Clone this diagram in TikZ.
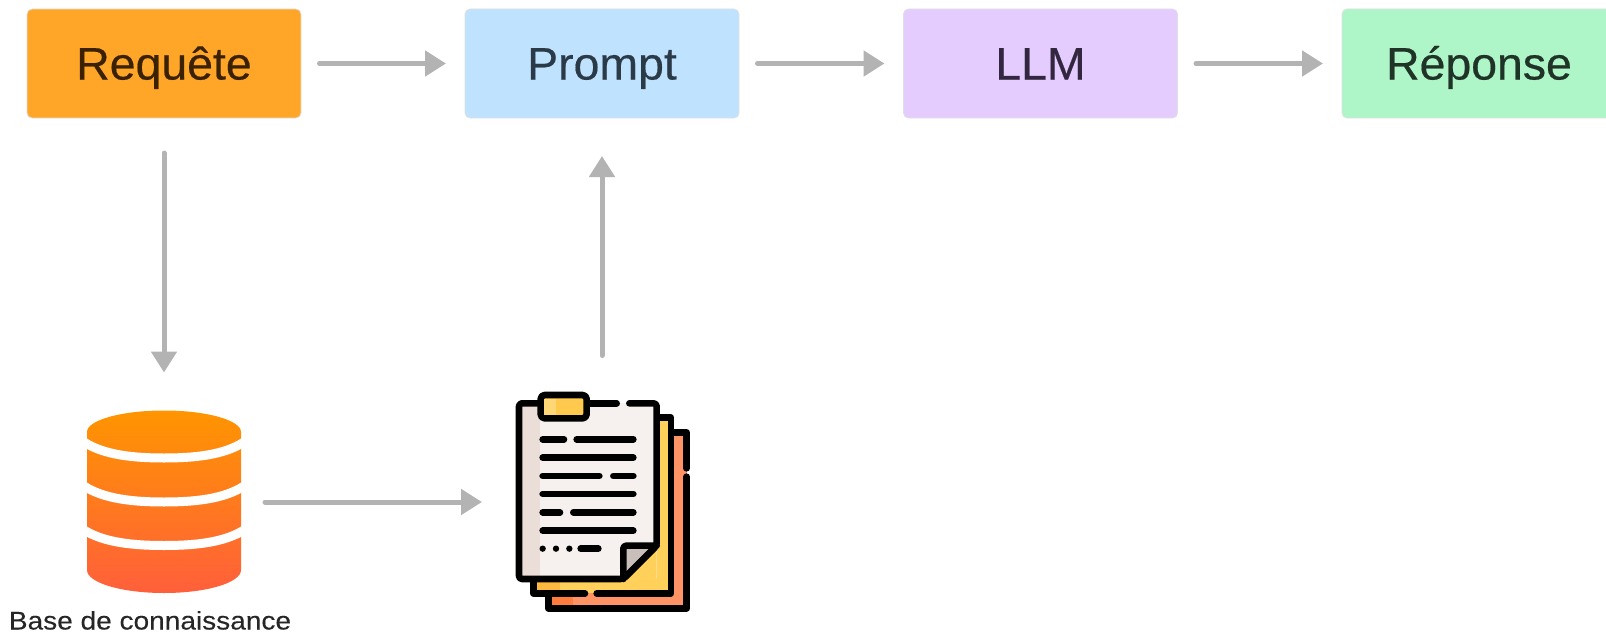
\documentclass[tikz,border=0pt]{standalone}
\usepackage{fontspec}
\setmainfont{Liberation Sans}
\newfontfamily\boxfont[FakeBold=0.4,FakeStretch=1.02]{Liberation Sans}
\newfontfamily\labfont[FakeBold=0.15,FakeStretch=1.1]{Liberation Sans}
\usetikzlibrary{arrows.meta}
\definecolor{arrowgray}{HTML}{B3B3B3}
\definecolor{cReq}{HTML}{FFA629}
\definecolor{cPro}{HTML}{BFE2FF}
\definecolor{cLlm}{HTML}{E5CCFF}
\definecolor{cRep}{HTML}{AEF5C8}
\definecolor{tReq}{HTML}{3A2200}
\definecolor{tPro}{HTML}{2B3A47}
\definecolor{tLlm}{HTML}{33263F}
\definecolor{tRep}{HTML}{1F3326}
\definecolor{dbTop}{HTML}{FF9500}
\definecolor{dbBot}{HTML}{FF5F3B}
\definecolor{pageA}{HTML}{F6F1EE}
\definecolor{pageAs}{HTML}{EBDDD8}
\definecolor{pageB}{HTML}{FFD15B}
\definecolor{pageBs}{HTML}{FFB93E}
\definecolor{pageC}{HTML}{FF9365}
\definecolor{pageCs}{HTML}{FF7B3E}
\definecolor{foldc}{HTML}{C9BFBA}
\definecolor{tabc}{HTML}{FFC94D}
\definecolor{tabl}{HTML}{FFD875}
\tikzset{
  x=1pt,y=-1pt,
  stagebox/.style={rectangle,rounded corners=5pt,minimum width=274pt,minimum height=109pt,
    inner sep=0pt,outer sep=0pt,draw=black!12,line width=0.8pt,text height=32pt,text depth=0pt,
    font=\boxfont\fontsize{45.5}{50}\selectfont},
  flow/.style={draw=arrowgray,line width=5pt,line cap=round,
    -{Triangle[length=21pt,width=25pt]}},
  ink/.style={line width=6.6pt,line cap=round,line join=round,draw=black},
  iconbox/.style={inner sep=0pt,outer sep=0pt,minimum width=#1},
}
\begin{document}
\begin{tikzpicture}
\useasboundingbox (0,0) rectangle (1606,634);
\clip (0,0) rectangle (1606,634);
\node[stagebox,fill=cReq,text=tReq] (req) at (164,63.5) {Requête};
\node[stagebox,fill=cPro,text=tPro] (pro) at (602,63.5) {Prompt};
\node[stagebox,fill=cLlm,text=tLlm] (llm) at (1040.5,63.5) {LLM};
\node[stagebox,fill=cRep,text=tRep] (rep) at (1479,63.5) {Réponse};
\node[iconbox=154pt,minimum height=183pt] (db) at (164,502) {};
\node[iconbox=172pt,minimum height=219pt] (doc) at (602,502) {};
\node[inner sep=0pt,font=\labfont\fontsize{25.5}{28}\selectfont,text=black!85,anchor=base] (lab) at (150,629.5) {Base de connaissance};
% database
\shade[top color=dbTop,bottom color=dbBot]
  (87,432) arc[start angle=180,end angle=360,x radius=77,y radius=21.5]
  -- (241,570) arc[start angle=0,end angle=180,x radius=77,y radius=23] -- cycle;
\foreach \yy/\sg in {442/16,486/16,530/15.5}
  \draw[white,line width=9pt]
    (84,\yy) .. controls (104,\yy+\sg*0.82) and (134,\yy+\sg) .. (164,\yy+\sg)
    .. controls (194,\yy+\sg) and (224,\yy+\sg*0.82) .. (244,\yy);
% document icon (zoom-crop coordinates)
\begin{scope}[shift={(490,380)},scale=0.33333]
  \fill[pageC] (175,157) rectangle (590,685);
  \fill[pageCs] (175,500) rectangle (250,685);
  \draw[ink] (590,265) -- (590,157) -- (505,157);
  \draw[ink] (590,290) -- (590,685) -- (175,685) -- (175,640);
  \fill[pageB] (130,113) rectangle (543,640);
  \fill[pageBs] (130,500) rectangle (210,640);
  \draw[ink] (505,113) -- (543,113) -- (543,640) -- (320,640);
  \draw[ink] (285,640) -- (130,640) -- (130,597);
  \fill[pageA] (87,70) rectangle (500,597);
  \fill[pageAs] (87,70) rectangle (150,597);
  \fill[pageB] (400,597) -- (500,497) -- (500,597) -- cycle;
  \fill[foldc] (400,597) -- (400,497) -- (500,497) -- cycle;
  \draw[ink,rounded corners=3pt] (150,70) -- (87,70) -- (87,597) -- (400,597) -- (500,497) -- (500,70) -- (418,70);
  \draw[ink] (295,70) -- (380,70);
  \draw[ink,rounded corners=3pt] (500,497) -- (400,497) -- (400,597);
  \draw[ink,fill=tabc,rounded corners=4pt] (152,45) rectangle (290,115);
  \fill[tabl] (163,56) rectangle (197,104);
  \foreach \yy/\a/\b in {178/158/222,178/260/430,233/158/430,288/158/328,288/370/430,342/158/430,397/158/210,397/250/430,452/158/430,506/272/325}
    \draw[ink] (\a,\yy) -- (\b,\yy);
  \foreach \xx in {158,198,238}
    \fill (\xx,506) circle[radius=9.5];
\end{scope}
% connectors
\draw[flow,shorten <=18.5pt,shorten >=19pt] (req.east) -- (pro.west);
\draw[flow,shorten <=18.5pt,shorten >=19pt] (pro.east) -- (llm.west);
\draw[flow,shorten <=18.5pt,shorten >=19pt] (llm.east) -- (rep.west);
\draw[flow,shorten <=35pt,shorten >=38pt] (req.south) -- (db.north);
\draw[flow,shorten <=37pt,shorten >=38pt] (doc.north) -- (pro.south);
\draw[flow,shorten <=24pt,shorten >=34pt] (db.east) -- (doc.west);
\end{tikzpicture}
\end{document}
